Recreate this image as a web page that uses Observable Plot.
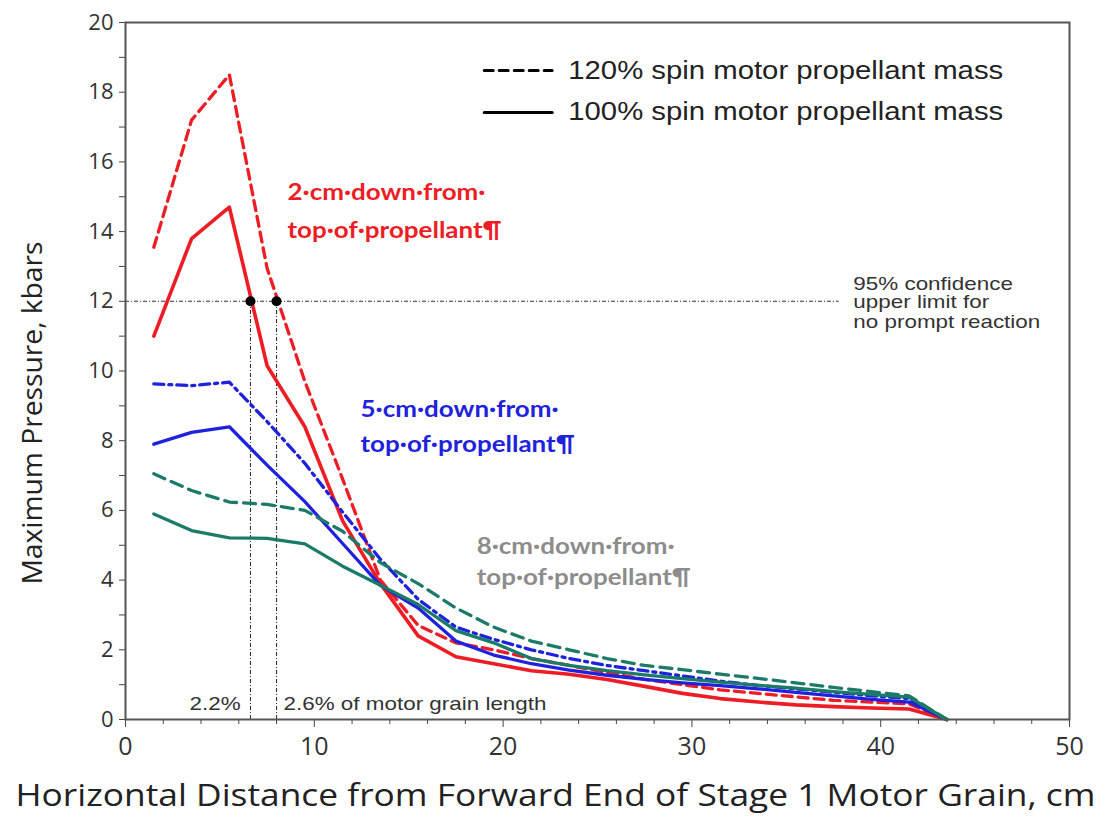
<!DOCTYPE html>
<html>
<head>
<meta charset="utf-8">
<script src="https://cdn.jsdelivr.net/npm/d3@7"></script>
<script src="https://cdn.jsdelivr.net/npm/@observablehq/plot@0.6"></script>
<style>
  html, body { margin: 0; padding: 0; background: #fff; }
  #chart svg { display: block; }
</style>
</head>
<body>
<div id="chart"></div>
<script>
// ---- data ----
const distance = [1.5, 3.5, 5.5, 7.5, 9.5, 11.5, 13.5, 15.5, 17.5, 19.5, 21.5, 23.5, 25.5, 27.5, 29.5, 31.5, 33.5, 35.5, 37.5, 39.5, 41.5, 43.5];
const red100   = [11.0, 13.8, 14.7, 10.15, 8.4, 5.7, 3.9, 2.4, 1.8, 1.6, 1.4, 1.3, 1.15, 0.95, 0.75, 0.6, 0.5, 0.42, 0.37, 0.33, 0.3, 0];
const red120   = [13.55, 17.2, 18.5, 12.95, 9.7, 6.9, 4.0, 2.7, 2.2, 2.0, 1.75, 1.55, 1.35, 1.15, 1.0, 0.85, 0.75, 0.65, 0.55, 0.5, 0.45, 0];
const blue100  = [7.9, 8.24, 8.4, 7.3, 6.25, 5.05, 3.85, 3.2, 2.25, 1.85, 1.6, 1.42, 1.27, 1.15, 1.05, 0.97, 0.88, 0.78, 0.68, 0.58, 0.5, 0];
const blue120  = [9.63, 9.58, 9.68, 8.55, 7.35, 5.95, 4.6, 3.45, 2.65, 2.3, 2.0, 1.75, 1.55, 1.4, 1.25, 1.1, 0.98, 0.88, 0.78, 0.68, 0.6, 0];
const green100 = [5.9, 5.42, 5.21, 5.2, 5.04, 4.4, 3.85, 3.3, 2.55, 2.2, 1.75, 1.55, 1.4, 1.28, 1.17, 1.07, 0.98, 0.9, 0.8, 0.72, 0.64, 0];
const green120 = [7.05, 6.57, 6.24, 6.17, 6.0, 5.4, 4.5, 3.9, 3.2, 2.65, 2.25, 2.0, 1.75, 1.55, 1.43, 1.3, 1.18, 1.05, 0.92, 0.8, 0.68, 0];

const seriesNames = ["2 cm, 120%", "2 cm, 100%", "5 cm, 120%", "5 cm, 100%", "8 cm, 120%", "8 cm, 100%"];
const seriesValues = [red120, red100, blue120, blue100, green120, green100];
const seriesColors = ["#ee1c24", "#ee1c24", "#1f22dc", "#1f22dc", "#1b7a68", "#1b7a68"];
const seriesDash   = ["10,6", null, "10,5,3,5", null, "12,7", null];

const threshold = 12;
const crossings = [6.62, 8.0];
const thresholdEnd = 37.8;

const yTicksMajor = [0, 2, 4, 6, 8, 10, 12, 14, 16, 18, 20];
const yTicksMinor = [1, 3, 5, 7, 9, 11, 13, 15, 17, 19];
const xTicksMajor = [0, 10, 20, 30, 40, 50];
const xTicksMinor = [2, 4, 6, 8, 12, 14, 16, 18, 22, 24, 26, 28, 32, 34, 36, 38, 42, 44, 46, 48];

const xLabel = "Horizontal Distance from Forward End of Stage 1 Motor Grain, cm";
const yLabel = "Maximum Pressure, kbars";

const legendLabels = ["120% spin motor propellant mass", "100% spin motor propellant mass"];
const legendDash = ["9,6", null];
const legendX = [19.0, 22.6];
const legendY = [18.62, 17.42];

const noteLines = [
  {text: "2·cm·down·from·",    x: 8.58,  y: 15.12, color: "#ee1c24"},
  {text: "top·of·propellant¶", x: 8.58,  y: 14.03, color: "#ee1c24"},
  {text: "5·cm·down·from·",    x: 12.45, y: 8.87,  color: "#1f22dc"},
  {text: "top·of·propellant¶", x: 12.45, y: 7.89,  color: "#1f22dc"},
  {text: "8·cm·down·from·",    x: 18.6,  y: 4.94,  color: "#8c8c8c"},
  {text: "top·of·propellant¶", x: 18.6,  y: 4.05,  color: "#8c8c8c"}
];
const confidenceLines = [
  {text: "95% confidence",     x: 38.55, y: 12.51},
  {text: "upper limit for",    x: 38.55, y: 11.97},
  {text: "no prompt reaction", x: 38.55, y: 11.42}
];
const pctNotes = [
  {text: "2.2%", x: 6.1, y: 0.46, anchor: "end"},
  {text: "2.6% of motor grain length", x: 8.37, y: 0.46, anchor: "start"}
];

// ---- build table ----
const table = [];
seriesNames.forEach((name, i) => {
  distance.forEach((d, j) => table.push({series: name, x: d, y: seriesValues[i][j]}));
});

const marks = [];
marks.push(Plot.ruleY([threshold], {x1: 0, x2: thresholdEnd, stroke: "#333", strokeWidth: 1.1, strokeDasharray: "4,2,1,2"}));
marks.push(Plot.ruleX(crossings, {y1: 0, y2: threshold, stroke: "#333", strokeWidth: 1.1, strokeDasharray: "4,2,1,2"}));

seriesNames.forEach((name, i) => {
  marks.push(Plot.line(table.filter(d => d.series === name), {
    x: "x", y: "y", stroke: seriesColors[i], strokeWidth: i === 1 ? 3.6 : 3.3,
    strokeDasharray: seriesDash[i], strokeLinejoin: "round"
  }));
});

marks.push(Plot.dot(crossings, {x: d => d, y: () => threshold, r: 5, fill: "#000", stroke: "none"}));

marks.push(Plot.axisY({ticks: yTicksMajor, tickSize: 6, tickPadding: 6, fontSize: 22, label: null, fill: "#333", stroke: "#444"}));
marks.push(Plot.axisY({ticks: yTicksMinor, tickSize: 6, tickFormat: () => "", label: null, stroke: "#444"}));
marks.push(Plot.axisX({ticks: xTicksMajor, tickSize: 8, tickPadding: 10, fontSize: 25, label: null, fill: "#333", stroke: "#444"}));
marks.push(Plot.axisX({ticks: xTicksMinor, tickSize: 5, tickFormat: () => "", label: null, stroke: "#444"}));
marks.push(Plot.frame({stroke: "#555", strokeWidth: 2}));

marks.push(Plot.text([xLabel], {frameAnchor: "bottom", dy: 86, dx: -42, fontSize: 31, fill: "#222", fontFamily: "Open Sans", className: "xlab"}));
marks.push(Plot.text([yLabel], {frameAnchor: "left", textAnchor: "middle", rotate: -90, dx: -92, dy: 42, fontSize: 28, fill: "#222", fontFamily: "Open Sans", className: "ylab"}));

legendLabels.forEach((lab, i) => {
  marks.push(Plot.line(legendX.map(x => ({x, y: legendY[i]})), {x: "x", y: "y", stroke: "#000", strokeWidth: 3, strokeDasharray: legendDash[i]}));
  marks.push(Plot.text([lab], {x: () => legendX[1] + 0.85, y: () => legendY[i], textAnchor: "start", fontSize: 25, fill: "#222", fontFamily: "Liberation Sans", className: "legtext"}));
});

marks.push(Plot.text(noteLines, {x: "x", y: "y", text: "text", fill: "color", textAnchor: "start", fontSize: 22, fontWeight: "bold", fontFamily: "Lato", className: "notes"}));
marks.push(Plot.text(confidenceLines, {x: "x", y: "y", text: "text", textAnchor: "start", fontSize: 19, fill: "#333", fontFamily: "Liberation Sans", className: "conf"}));
pctNotes.forEach(n => {
  marks.push(Plot.text([n.text], {x: () => n.x, y: () => n.y, textAnchor: n.anchor, fontSize: 19, fill: "#333", fontFamily: "Liberation Sans", className: "pct"}));
});

const chart = Plot.plot({
  width: 1108,
  height: 829,
  marginLeft: 125,
  marginRight: 39,
  marginTop: 22,
  marginBottom: 110,
  style: {fontFamily: "Open Sans", background: "#fff"},
  x: {domain: [0, 50]},
  y: {domain: [0, 20]},
  marks
});
document.getElementById("chart").appendChild(chart);

// the reference image is horizontally stretched: widen texts to match
function stretch(cls, factor, target) {
  chart.querySelectorAll(`.${cls} text`).forEach(t => {
    const L = t.getComputedTextLength();
    t.setAttribute("textLength", target != null ? target : L * factor);
    t.setAttribute("lengthAdjust", "spacingAndGlyphs");
  });
}
stretch("xlab", null, 1080);
stretch("ylab", null, 343);
stretch("legtext", null, 435);
stretch("notes", 1.18);
stretch("conf", 1.18);
stretch("pct", 1.18);
</script>
</body>
</html>
